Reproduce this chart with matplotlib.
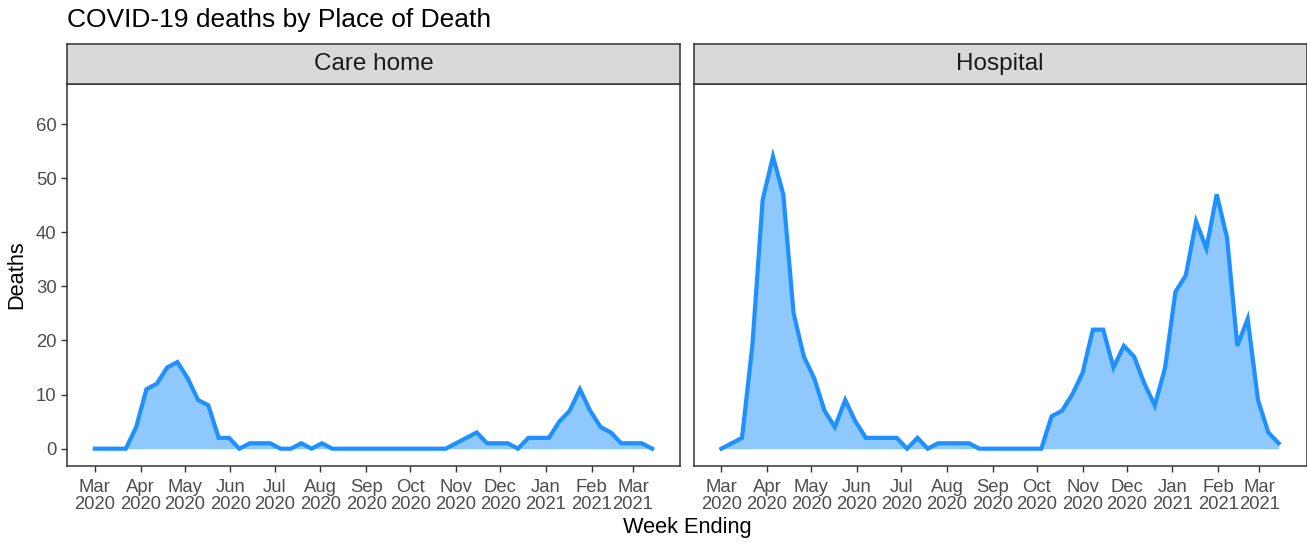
import matplotlib
matplotlib.use("Agg")
import matplotlib.pyplot as plt
import matplotlib.dates as mdates
import pandas as pd

plt.rcParams['font.family'] = ['Liberation Sans', 'DejaVu Sans']

# week ending dates (weekly, Sunday)
weeks = pd.date_range('2020-03-01', '2021-03-14', freq='7D')

care_home = [0, 0, 0, 0, 4, 11, 12, 15, 16, 13,
             9, 8, 2, 2, 0, 1, 1, 1, 0, 0,
             1, 0, 1, 0, 0, 0, 0, 0, 0, 0,
             0, 0, 0, 0, 0, 1, 2, 3, 1, 1,
             1, 0, 2, 2, 2, 5, 7, 11, 7, 4,
             3, 1, 1, 1, 0]

hospital = [0, 1, 2, 19, 46, 54, 47, 25, 17, 13,
            7, 4, 9, 5, 2, 2, 2, 2, 0, 2,
            0, 1, 1, 1, 1, 0, 0, 0, 0, 0,
            0, 0, 6, 7, 10, 14, 22, 22, 15, 19,
            17, 12, 8, 15, 29, 32, 42, 37, 47, 39,
            19, 24, 9, 3, 1]

panels = ['Care home', 'Hospital']
series = [care_home, hospital]

W, H = 1307, 549
fig = plt.figure(figsize=(W / 100, H / 100), dpi=100)

line_col = '#1E90FF'
fill_col = '#8EC8FF'
border = '#333333'

lefts = [67, 693.5]
pw = 613
top, bot, strip_top = 84, 466, 43.5

xmin = weeks[0] - pd.Timedelta(days=18.9)
xmax = weeks[-1] + pd.Timedelta(days=18.9)
month_ticks = pd.date_range('2020-03-01', '2021-03-01', freq='MS')

for k, (name, vals) in enumerate(zip(panels, series)):
    l = lefts[k]
    ax = fig.add_axes([l / W, (H - bot) / H, pw / W, (bot - top) / H])
    ax.fill_between(weeks, 0, vals, color=fill_col, lw=0)
    ax.plot(weeks, vals, color=line_col, lw=3.0, solid_joinstyle='miter')
    ax.set_xlim(xmin, xmax)
    ax.set_ylim(-3.2, 67.4)
    ax.set_yticks([0, 10, 20, 30, 40, 50, 60])
    ax.set_xticks(month_ticks)
    ax.xaxis.set_major_formatter(mdates.DateFormatter('%b\n%Y'))
    ax.tick_params(axis='both', length=4.5, width=1, color=border,
                   labelsize=13.3, labelcolor='#4D4D4D', pad=3)
    ax.tick_params(axis='x', pad=5)
    for lab in ax.get_xticklabels():
        lab.set_linespacing(1.0)
    if k == 1:
        ax.tick_params(axis='y', left=False, labelleft=False)
    for s in ax.spines.values():
        s.set_color(border)
        s.set_linewidth(1.1)

    sax = fig.add_axes([l / W, (H - top) / H, pw / W, (top - strip_top) / H])
    sax.set_facecolor('#D9D9D9')
    sax.set_xticks([])
    sax.set_yticks([])
    for s in sax.spines.values():
        s.set_color(border)
        s.set_linewidth(1.1)
    sax.text(0.5, 0.5, name, ha='center', va='center', fontsize=17.5,
             color='#1A1A1A', transform=sax.transAxes)

fig.text(67 / W, 1 - 27 / H, 'COVID-19 deaths by Place of Death',
         fontsize=19, color='black', va='baseline', ha='left')
fig.text(687 / W, 1 - 528 / H, 'Week Ending', fontsize=15.7,
         ha='center', va='center')
fig.text(17 / W, 1 - 275 / H, 'Deaths', fontsize=15.7, rotation=90,
         ha='center', va='center')

fig.savefig('out.png', dpi=100)
